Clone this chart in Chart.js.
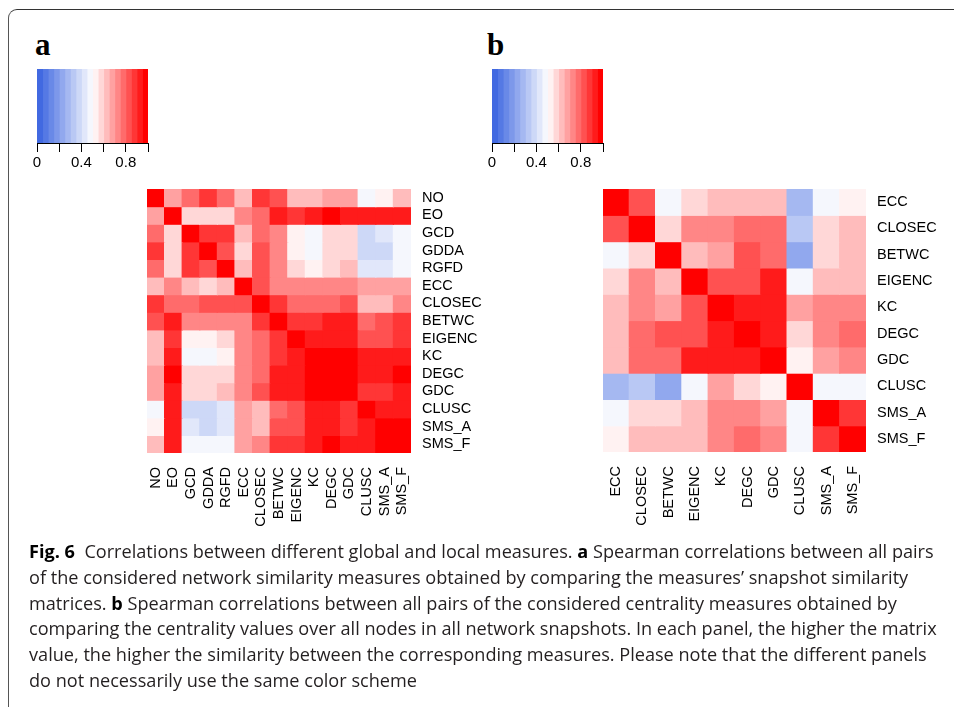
<!DOCTYPE html>
<html><head><meta charset="utf-8">
<script src="https://cdn.jsdelivr.net/npm/chart.js@4.4.1/dist/chart.umd.min.js"></script>
<style>
html,body{margin:0;padding:0;background:#fff;width:954px;height:707px;overflow:hidden;position:relative;}
#frame{position:absolute;left:8px;top:9px;width:1000px;height:800px;border-top:1.5px solid #333;border-left:1.5px solid #555;border-top-left-radius:9px;box-sizing:border-box;}
.plabel{position:absolute;font-family:'Liberation Serif',serif;font-weight:bold;font-size:31px;line-height:31px;color:#000;}
canvas{position:absolute;}
#caption{position:absolute;left:29px;font-family:'Open Sans',sans-serif;color:#231f20;white-space:nowrap;}
#caption b{color:#000;}
</style></head><body>
<div id="frame"></div>
<div class="plabel" style="left:35px;top:29px;">a</div>
<div class="plabel" style="left:487px;top:29px;">b</div>
<canvas id="cbA" width="131" height="104" style="left:27px;top:69px;"></canvas>
<canvas id="cbB" width="131" height="104" style="left:482px;top:69px;"></canvas>
<canvas id="hmA" width="364" height="354" style="left:147px;top:189px;"></canvas>
<canvas id="hmB" width="353" height="353" style="left:603px;top:189px;"></canvas>
<div id="caption">
<div><span id="cap1"><b>Fig. 6</b>&nbsp; Correlations between different global and local measures. <b>a</b> Spearman correlations between all pairs</span></div>
<div>of the considered network similarity measures obtained by comparing the measures’ snapshot similarity</div>
<div>matrices. <b>b</b> Spearman correlations between all pairs of the considered centrality measures obtained by</div>
<div>comparing the centrality values over all nodes in all network snapshots. In each panel, the higher the matrix</div>
<div>value, the higher the similarity between the corresponding measures. Please note that the different panels</div>
<div>do not necessarily use the same color scheme</div>
</div>
<script>
// ---- data ----
const labelsA = ['NO','EO','GCD','GDDA','RGFD','ECC','CLOSEC','BETWC','EIGENC','KC','DEGC','GDC','CLUSC','SMS_A','SMS_F'];
const corrA = [
  [1.00,0.68,0.78,0.88,0.78,0.63,0.88,0.83,0.63,0.63,0.68,0.68,0.48,0.53,0.63],
  [0.68,1.00,0.58,0.58,0.58,0.73,0.78,0.93,0.88,0.93,0.98,0.93,0.93,0.93,0.93],
  [0.78,0.58,1.00,0.88,0.88,0.63,0.78,0.73,0.53,0.48,0.58,0.58,0.38,0.43,0.48],
  [0.88,0.58,0.88,1.00,0.83,0.58,0.83,0.73,0.53,0.48,0.58,0.58,0.38,0.38,0.48],
  [0.78,0.58,0.88,0.83,1.00,0.63,0.83,0.73,0.58,0.53,0.58,0.63,0.43,0.43,0.48],
  [0.63,0.73,0.63,0.58,0.63,1.00,0.83,0.73,0.73,0.73,0.73,0.73,0.68,0.68,0.68],
  [0.88,0.78,0.78,0.83,0.83,0.83,1.00,0.88,0.78,0.78,0.78,0.83,0.63,0.63,0.73],
  [0.83,0.93,0.73,0.73,0.73,0.73,0.88,1.00,0.88,0.88,0.93,0.93,0.78,0.83,0.88],
  [0.63,0.88,0.53,0.53,0.58,0.73,0.78,0.88,1.00,0.93,0.93,0.93,0.83,0.83,0.88],
  [0.63,0.93,0.48,0.48,0.53,0.73,0.78,0.88,0.93,1.00,0.98,0.98,0.93,0.93,0.93],
  [0.68,0.98,0.58,0.58,0.58,0.73,0.78,0.93,0.93,0.98,1.00,0.98,0.93,0.93,0.98],
  [0.68,0.93,0.58,0.58,0.63,0.73,0.83,0.93,0.93,0.98,0.98,1.00,0.88,0.88,0.93],
  [0.48,0.93,0.38,0.38,0.43,0.68,0.63,0.78,0.83,0.93,0.93,0.88,1.00,0.93,0.93],
  [0.53,0.93,0.43,0.38,0.43,0.68,0.63,0.83,0.83,0.93,0.93,0.88,0.93,1.00,0.98],
  [0.63,0.93,0.48,0.48,0.48,0.68,0.73,0.88,0.88,0.93,0.98,0.93,0.93,0.98,1.00]
];
const labelsB = ['ECC','CLOSEC','BETWC','EIGENC','KC','DEGC','GDC','CLUSC','SMS_A','SMS_F'];
const corrB = [
  [1.00,0.83,0.48,0.58,0.63,0.63,0.63,0.28,0.48,0.53],
  [0.83,1.00,0.58,0.73,0.73,0.78,0.78,0.33,0.58,0.63],
  [0.48,0.58,1.00,0.63,0.68,0.83,0.78,0.23,0.58,0.63],
  [0.58,0.73,0.63,1.00,0.83,0.83,0.93,0.48,0.63,0.63],
  [0.63,0.73,0.68,0.83,1.00,0.93,0.93,0.68,0.73,0.73],
  [0.63,0.78,0.83,0.83,0.93,1.00,0.93,0.58,0.73,0.78],
  [0.63,0.78,0.78,0.93,0.93,0.93,1.00,0.53,0.68,0.73],
  [0.28,0.33,0.23,0.48,0.68,0.58,0.53,1.00,0.48,0.48],
  [0.48,0.58,0.58,0.63,0.73,0.73,0.68,0.48,1.00,0.88],
  [0.53,0.63,0.63,0.63,0.73,0.78,0.73,0.48,0.88,1.00]
];
const colorbarTicks = [0, 0.4, 0.8];

// ---- palette (royalblue -> white -> red, 20 steps) ----
const NBINS = 20;
function binColor(k){
  const p = k/(NBINS-1);
  let c;
  if (p <= 0.5){ const t=(0.5-p)/0.5; c=[255+(65-255)*t, 255+(105-255)*t, 255+(225-255)*t]; }
  else { const t=(p-0.5)/0.5; c=[255, 255*(1-t), 255*(1-t)]; }
  return 'rgb(' + c.map(Math.round).join(',') + ')';
}
function valueColor(v){
  const k = Math.max(0, Math.min(NBINS-1, Math.floor(v*NBINS + 1e-9)));
  return binColor(k);
}

Chart.defaults.font.family = "'Liberation Sans', Arial, sans-serif";
Chart.defaults.color = '#000';

function heatmap(id, labels, matrix, side){
  const canvas = document.getElementById(id);
  const W = canvas.width, H = canvas.height, n = labels.length;
  new Chart(canvas, {
    type: 'bar',
    data: {
      labels: labels,
      datasets: matrix.map((row, i) => ({
        label: labels[i],
        data: row.map(() => 1),
        backgroundColor: row.map(valueColor),
        borderWidth: 0,
        barPercentage: 1,
        categoryPercentage: 1,
        inflateAmount: 0.6
      }))
    },
    options: {
      responsive: false, animation: false, events: [],
      layout: {padding: 0},
      plugins: {legend: {display: false}, tooltip: {enabled: false}},
      scales: {
        x: {type: 'category', stacked: true, offset: true,
            grid: {display: false, drawTicks: false}, border: {display: false},
            ticks: {autoSkip: false, minRotation: 90, maxRotation: 90, padding: 14, color: '#000', font: {size: 14.5}},
            afterFit: s => { s.height = H - side; s.paddingLeft = 0; s.paddingRight = 0; s.paddingTop = 0; s.paddingBottom = 0; }},
        y: {type: 'linear', stacked: true, min: 0, max: n, reverse: true, display: false},
        yLab: {type: 'category', labels: labels, position: 'right', offset: true,
            grid: {display: false, drawTicks: false}, border: {display: false},
            ticks: {autoSkip: false, padding: 11, color: '#000', font: {size: 14.5}},
            afterFit: s => { s.width = W - side; s.paddingTop = 0; s.paddingBottom = 0; s.paddingLeft = 0; s.paddingRight = 0; }}
      }
    }
  });
}

function colorbar(id){
  const canvas = document.getElementById(id);
  const H = canvas.height, barH = 74;
  const datasets = [];
  for (let k = 0; k < NBINS; k++){
    datasets.push({data: [[k/NBINS, (k+1)/NBINS]], backgroundColor: binColor(k), borderWidth: 0,
      barPercentage: 1, categoryPercentage: 1, grouped: false, inflateAmount: 0.5});
  }
  new Chart(canvas, {
    type: 'bar',
    data: {labels: [''], datasets: datasets},
    options: {
      indexAxis: 'y', responsive: false, animation: false, events: [],
      layout: {padding: {left: 10, right: 10, top: 0, bottom: 0}},
      plugins: {legend: {display: false}, tooltip: {enabled: false}},
      scales: {
        y: {type: 'category', display: false},
        x: {type: 'linear', min: 0, max: 1, position: 'bottom',
            grid: {drawOnChartArea: false, drawTicks: true, tickLength: 9, color: '#000', lineWidth: 1},
            border: {display: true, color: '#000', width: 1},
            ticks: {stepSize: 0.2, autoSkip: false, minRotation: 0, maxRotation: 0, padding: 2, color: '#000', font: {size: 15},
              callback: v => colorbarTicks.some(t => Math.abs(t - v) < 1e-6) ? String(+(+v).toFixed(1)) : ''},
            afterFit: s => { s.height = H - barH; s.paddingLeft = 0; s.paddingRight = 0; }}
      }
    }
  });
}

colorbar('cbA');
colorbar('cbB');
heatmap('hmA', labelsA, corrA, 264);
heatmap('hmB', labelsB, corrB, 263);

// caption sizing
(function(){
  const cap = document.getElementById('caption');
  const first = document.getElementById('cap1');
  const base = 17;
  cap.style.fontSize = base + 'px';
  const w = first.getBoundingClientRect().width;
  const s = base * 905 / w;
  const L = 25.8;
  cap.style.fontSize = s + 'px';
  cap.style.lineHeight = L + 'px';
  cap.style.top = (559 - ((L - 1.362*s)/2 + 1.069*s)) + 'px';
})();
</script>
</body></html>
